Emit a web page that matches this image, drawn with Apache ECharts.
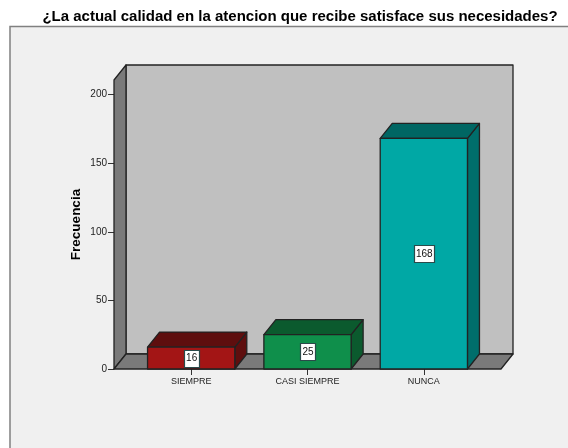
<!DOCTYPE html>
<html><head><meta charset="utf-8">
<style>html,body{margin:0;padding:0;background:#fff}#c{width:568px;height:448px}</style>
<script src="https://cdn.jsdelivr.net/npm/echarts@6/dist/echarts.min.js"></script>
</head><body><div id="c"></div>
<script>
var categories = ['SIEMPRE', 'CASI SIEMPRE', 'NUNCA'];
var values = [16, 25, 168];
var yTicks = [0, 50, 100, 150, 200];
var titleText = '¿La actual calidad en la atencion que recibe satisface sus necesidades?';
var yTitle = 'Frecuencia';
var frontColors = ['#A31515', '#0F8F4B', '#00A8A5'];
var topColors = ['#5E0E0E', '#0B5A2E', '#006663'];
var sideColors = ['#5E0E0E', '#0B5A2E', '#006E6B'];

var DX = 12, DY = -15, LINE = '#222222', FONT = '"Liberation Sans", Arial, sans-serif';
var GRID = {left: 133, top: 80, width: 349, height: 289};
var PAD = 19, YMAX = 210.6;

function poly(points, fill, z2) {
  return {type: 'polygon', shape: {points: points}, z2: z2 || 0,
    style: {fill: fill, stroke: LINE, lineWidth: 1.3, lineJoin: 'round'}};
}

function renderWalls(params, api) {
  var c = params.coordSys;
  var l = c.x - PAD, r = c.x + c.width + PAD, t = c.y, b = c.y + c.height;
  return {type: 'group', children: [
    poly([[l + DX, t + DY], [r + DX, t + DY], [r + DX, b + DY], [l + DX, b + DY]], '#C0C0C0'),
    poly([[l, t], [l + DX, t + DY], [l + DX, b + DY], [l, b]], '#7A7A7A'),
    poly([[l, b], [l + DX, b + DY], [r + DX, b + DY], [r, b]], '#7A7A7A')
  ]};
}

function renderBar(params, api) {
  var i = api.value(0), v = api.value(1);
  var p = api.coord([i, v]), base = api.coord([i, 0]);
  var w = api.size([1, 0])[0] * 0.75;
  var x0 = p[0] - w / 2, x1 = p[0] + w / 2, y0 = p[1], y1 = base[1];
  var my = (y0 + y1) / 2, txt = String(v);
  var bw = txt.length * 5 + 5, bh = 17;
  return {type: 'group', children: [
    poly([[x1, y0], [x1 + DX, y0 + DY], [x1 + DX, y1 + DY], [x1, y1]], sideColors[i]),
    poly([[x0, y0], [x0 + DX, y0 + DY], [x1 + DX, y0 + DY], [x1, y0]], topColors[i]),
    poly([[x0, y0], [x1, y0], [x1, y1], [x0, y1]], frontColors[i]),
    {type: 'rect', shape: {x: Math.round(p[0] - bw / 2) + 0.5, y: Math.round(my - bh / 2) + 0.5, width: bw, height: bh},
      style: {fill: '#FFFFFF', stroke: '#2A4A4A', lineWidth: 1.2}},
    {type: 'text', style: {x: p[0] + 0.5, y: my + 0.5, text: txt, fill: '#111', align: 'center', verticalAlign: 'middle',
      font: '10px ' + FONT}}
  ]};
}

var chart = echarts.init(document.getElementById('c'), null, {renderer: 'canvas'});
chart.setOption({
  animation: false,
  backgroundColor: '#FFFFFF',
  title: {text: titleText, left: 295, top: 4, textAlign: 'center',
    textStyle: {fontFamily: FONT, fontSize: 15, fontWeight: 'bold', color: '#000'}},
  graphic: [{type: 'rect', z: -1, shape: {x: 10, y: 26.5, width: 600, height: 500},
    style: {fill: '#F0F0F0', stroke: '#808080', lineWidth: 1.5}}],
  grid: GRID,
  xAxis: {type: 'category', data: categories,
    axisLine: {show: false},
    axisTick: {show: true, alignWithLabel: true, length: 6, lineStyle: {color: '#333'}},
    axisLabel: {fontFamily: FONT, fontSize: 9, color: '#222', margin: 8, interval: 0},
    splitLine: {show: false}},
  yAxis: {type: 'value', min: 0, max: YMAX, interval: 50, offset: PAD,
    name: yTitle, nameLocation: 'middle', nameGap: 31, nameMoveOverlap: false,
    nameTextStyle: {fontFamily: FONT, fontSize: 13.5, fontWeight: 'bold', color: '#000'},
    axisLine: {show: false},
    axisTick: {show: true, length: 6, customValues: yTicks, lineStyle: {color: '#333'}},
    axisLabel: {fontFamily: FONT, fontSize: 10, color: '#222', margin: 7,
      customValues: yTicks, formatter: function (v) { return v; }},
    splitLine: {show: false}},
  series: [
    {type: 'custom', renderItem: renderWalls, data: [[0, 0]], clip: false, silent: true, z: 1},
    {type: 'custom', renderItem: renderBar, clip: false, silent: true, z: 2,
      encode: {x: 0, y: 1},
      data: values.map(function (v, i) { return [i, v]; })}
  ]
});
</script></body></html>
